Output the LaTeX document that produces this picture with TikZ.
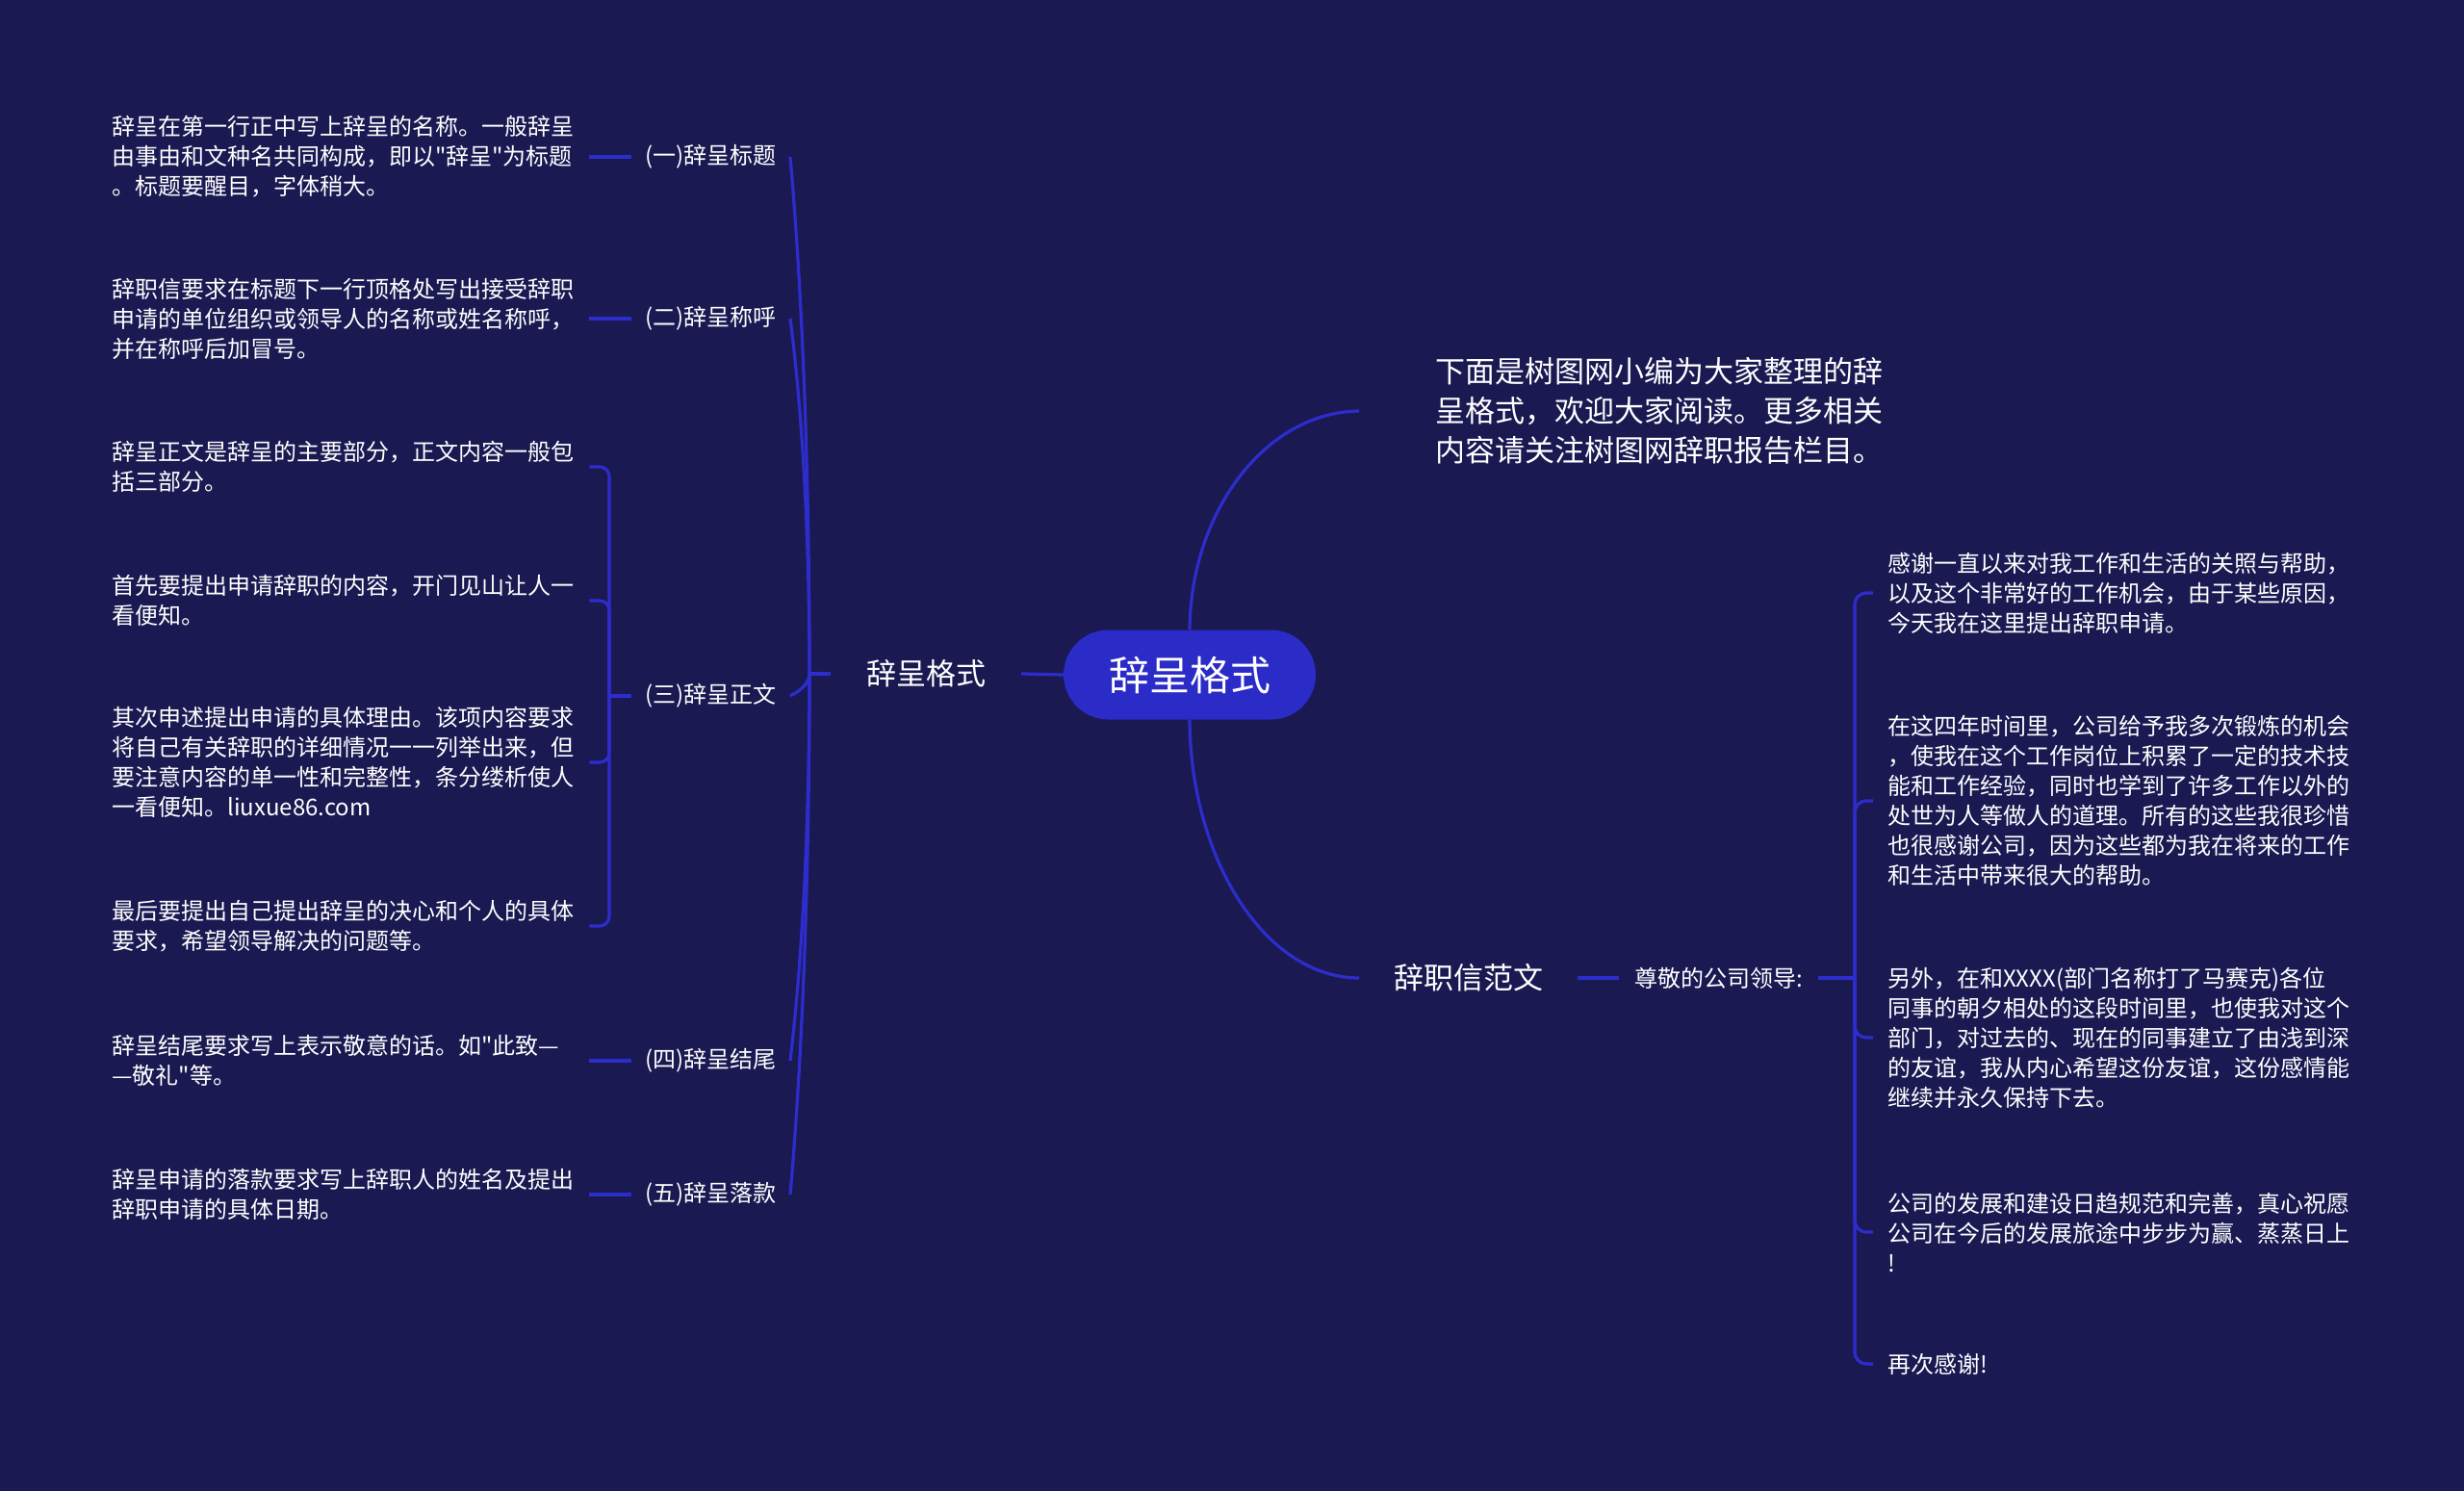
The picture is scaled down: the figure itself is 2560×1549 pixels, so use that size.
\documentclass[tikz,border=0pt]{standalone}
\usepackage{fontspec}
\setmainfont{Noto Sans CJK SC}[Ligatures=TeXOff]
\usetikzlibrary{calc}
\definecolor{bgc}{RGB}{26,25,82}
\definecolor{nodec}{RGB}{43,43,200}
\definecolor{linec}{RGB}{45,45,205}
\begin{document}
\begin{tikzpicture}[x=1pt,y=-1pt,
  conn/.style={draw=linec, line width=3.2pt},
  leaf/.style={text=white, text width=484pt, align=left, inner xsep=12pt, inner ysep=0pt, font=\fontsize{24}{31}\selectfont},
  lab/.style={text=white, inner xsep=14pt, inner ysep=0pt, font=\fontsize{24}{31}\selectfont},
  big/.style={text=white, inner xsep=37pt, inner ysep=0pt, font=\fontsize{31}{41}\selectfont}]
\fill[bgc] (0,0) rectangle (2560,1549);
\useasboundingbox (0,0) rectangle (2560,1549);

% centre
\node[fill=nodec, text=white, rounded corners=46.5pt, minimum width=262pt, minimum height=93pt, inner sep=0pt, font=\fontsize{42}{50}\selectfont] (C) at (1236,701) {辞呈格式};

% left main branch
\node[big] (L) at (962,700) {辞呈格式};
\draw[conn] (C.west) -- (L.east);
\coordinate (T) at (841,700);
\draw[conn] (L.west) -- (T);

\node[lab, anchor=east] (A1) at (821,163) {(一)辞呈标题};
\node[lab, anchor=east] (A2) at (821,331) {(二)辞呈称呼};
\node[lab, anchor=east] (A3) at (821,723) {(三)辞呈正文};
\node[lab, anchor=east] (A4) at (821,1102) {(四)辞呈结尾};
\node[lab, anchor=east] (A5) at (821,1241) {(五)辞呈落款};

\draw[conn] (T) .. controls (841,485) and (833,297) .. (A1.east);
\draw[conn] (T) .. controls (841,552) and (833,423) .. (A2.east);
\draw[conn] (T) .. controls (841,709) and (833,717) .. (A3.east);
\draw[conn] (T) .. controls (841,861) and (833,1002) .. (A4.east);
\draw[conn] (T) .. controls (841,916) and (833,1106) .. (A5.east);

\node[leaf, anchor=west] (B1) at (104,163) {辞呈在第一行正中写上辞呈的名称。一般辞呈\\由事由和文种名共同构成，即以"辞呈"为标题\\。标题要醒目，字体稍大。};
\node[leaf, anchor=west] (B2) at (104,331) {辞职信要求在标题下一行顶格处写出接受辞职\\申请的单位组织或领导人的名称或姓名称呼，\\并在称呼后加冒号。};
\node[leaf, anchor=west] (B3a) at (104,485) {辞呈正文是辞呈的主要部分，正文内容一般包\\括三部分。};
\node[leaf, anchor=west] (B3b) at (104,624) {首先要提出申请辞职的内容，开门见山让人一\\看便知。};
\node[leaf, anchor=west] (B3c) at (104,792) {其次申述提出申请的具体理由。该项内容要求\\将自己有关辞职的详细情况一一列举出来，但\\要注意内容的单一性和完整性，条分缕析使人\\一看便知。liuxue86.com};
\node[leaf, anchor=west] (B3d) at (104,962) {最后要提出自己提出辞呈的决心和个人的具体\\要求，希望领导解决的问题等。};
\node[leaf, anchor=west] (B4) at (104,1102) {辞呈结尾要求写上表示敬意的话。如"此致—\\—敬礼"等。};
\node[leaf, anchor=west] (B5) at (104,1241) {辞呈申请的落款要求写上辞职人的姓名及提出\\辞职申请的具体日期。};

\draw[conn] (B1.east) -- (A1.west);
\draw[conn] (B2.east) -- (A2.west);
\draw[conn] (B4.east) -- (A4.west);
\draw[conn] (B5.east) -- (A5.west);

\coordinate (K3) at (633,723);
\draw[conn] (A3.west) -- (K3);
\draw[conn, rounded corners=10pt] (K3) |- (B3a.east);
\draw[conn, rounded corners=10pt] (K3) |- (B3b.east);
\draw[conn, rounded corners=10pt] (K3) |- (B3c.east);
\draw[conn, rounded corners=10pt] (K3) |- (B3d.east);

% right branches
\node[text=white, anchor=west, inner sep=0pt, align=left, font=\fontsize{31}{41}\selectfont] (R1) at (1491,427) {下面是树图网小编为大家整理的辞\\呈格式，欢迎大家阅读。更多相关\\内容请关注树图网辞职报告栏目。};
\draw[conn] (C.north) .. controls (1237,530) and (1316,428) .. ([xshift=-79pt]R1.west);

\node[big, anchor=west, inner xsep=36pt] (R2) at (1412,1016) {辞职信范文};
\draw[conn] (C.south) .. controls (1237,895) and (1316,1016) .. (R2.west);

\node[lab, anchor=west, inner xsep=16pt] (R3) at (1682,1016) {尊敬的公司领导:};
\draw[conn] (R2.east) -- (R3.west);
\coordinate (K4) at (1927,1016);
\draw[conn] (R3.east) -- (K4);

\node[leaf, anchor=west, inner xsep=15pt] (D1) at (1946,616) {感谢一直以来对我工作和生活的关照与帮助，\\以及这个非常好的工作机会，由于某些原因，\\今天我在这里提出辞职申请。};
\node[leaf, anchor=west, inner xsep=15pt] (D2) at (1946,832) {在这四年时间里，公司给予我多次锻炼的机会\\，使我在这个工作岗位上积累了一定的技术技\\能和工作经验，同时也学到了许多工作以外的\\处世为人等做人的道理。所有的这些我很珍惜\\也很感谢公司，因为这些都为我在将来的工作\\和生活中带来很大的帮助。};
\node[leaf, anchor=west, inner xsep=15pt] (D3) at (1946,1078) {另外，在和XXXX(部门名称打了马赛克)各位\\同事的朝夕相处的这段时间里，也使我对这个\\部门，对过去的、现在的同事建立了由浅到深\\的友谊，我从内心希望这份友谊，这份感情能\\继续并永久保持下去。};
\node[leaf, anchor=west, inner xsep=15pt] (D4) at (1946,1280) {公司的发展和建设日趋规范和完善，真心祝愿\\公司在今后的发展旅途中步步为赢、蒸蒸日上\\!};
\node[leaf, anchor=west, inner xsep=15pt] (D5) at (1946,1417) {再次感谢!};

\draw[conn, rounded corners=12pt] (K4) |- (D1.west);
\draw[conn, rounded corners=12pt] (K4) |- (D2.west);
\draw[conn, rounded corners=12pt] (K4) |- (D3.west);
\draw[conn, rounded corners=12pt] (K4) |- (D4.west);
\draw[conn, rounded corners=12pt] (K4) |- (D5.west);
\end{tikzpicture}
\end{document}
